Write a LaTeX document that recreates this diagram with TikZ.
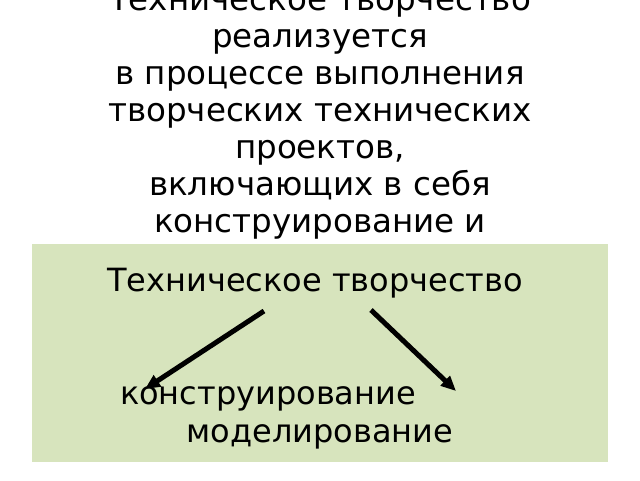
\documentclass[tikz,border=0pt]{standalone}
\usepackage{fontspec}
\setmainfont{DejaVu Sans}
\usetikzlibrary{arrows.meta}
\definecolor{boxgreen}{HTML}{D7E4BD}
\tikzset{
  txt/.style={anchor=base, inner sep=0pt, font=\fontsize{32.5}{37}\selectfont},
  intxt/.style={anchor=base, inner sep=0pt, font=\fontsize{32}{37}\selectfont},
  arr/.style={line width=5pt, -{Triangle[length=15pt,width=13pt]}}
}
\begin{document}
\begin{tikzpicture}[x=1pt,y=-1pt]
\useasboundingbox (0,0) rectangle (640,480);
\clip (0,0) rectangle (640,480);
\fill[white] (0,0) rectangle (640,480);
\node[txt] (t1) at (320,10) {Техническое творчество};
\node[txt] (t2) at (320,47) {реализуется};
\node[txt] (t3) at (320,84) {в процессе выполнения};
\node[txt] (t4) at (320,121) {творческих технических};
\node[txt] (t5) at (320,158) {проектов,};
\node[txt] (t6) at (320,195) {включающих в себя};
\node[txt] (t7) at (320,232) {конструирование и};
\fill[boxgreen] (32,244) rectangle (608,462);
\node[intxt] (root) at (315,291) {Техническое творчество};
\node[intxt] (kon) at (268,404) {конструирование};
\node[intxt] (mod) at (320,442) {моделирование};
\coordinate (a1) at (264,311);
\coordinate (a1e) at (145,389);
\coordinate (a2) at (371,310);
\coordinate (a2e) at (456,391);
\draw[arr] (a1) -- (a1e);
\draw[arr] (a2) -- (a2e);
\end{tikzpicture}
\end{document}
